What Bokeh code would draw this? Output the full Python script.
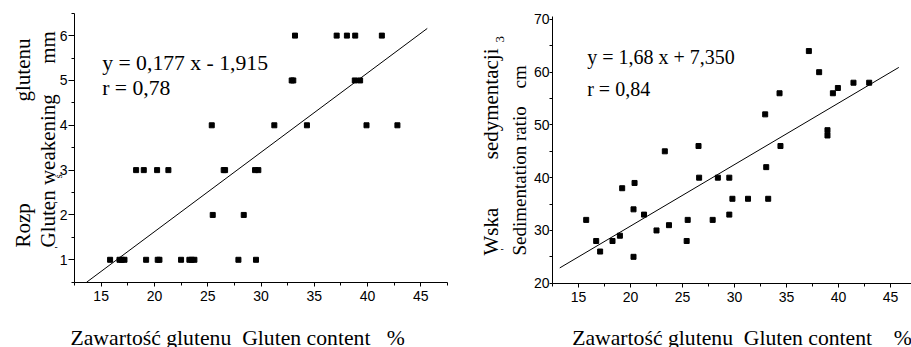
import math
from bokeh.plotting import figure
from bokeh.models import Label, FixedTicker
from bokeh.layouts import row
from bokeh.embed import file_html
from bokeh.resources import INLINE

# ---------------- data: left chart (gluten weakening vs gluten content)
weak_x = [15.84, 16.72, 16.94, 17.19, 19.22, 20.31, 20.47, 22.5, 23.28, 23.5, 23.75, 27.88, 29.53,
          25.47, 28.38,
          18.28, 19.0, 20.25, 21.31, 26.5, 26.63, 29.44, 29.75,
          25.38, 31.25, 34.31, 39.9, 42.8,
          32.88, 33.03, 38.8, 39.3,
          33.19, 37.1, 38.06, 38.84, 41.34]
weak_y = [1, 1, 1, 1, 1, 1, 1, 1, 1, 1, 1, 1, 1,
          2, 2,
          3, 3, 3, 3, 3, 3, 3, 3,
          4, 4, 4, 4, 4,
          5, 5, 5, 5,
          6, 6, 6, 6, 6]
weak_line_x = [13.64, 45.6]
weak_line_y = [0.5, 6.16]
weak_eq = "y = 0,177 x - 1,915"
weak_r = "r = 0,78"

# ---------------- data: right chart (sedimentation ratio vs gluten content)
sed_x = [15.74, 16.7, 17.08, 18.27, 18.98, 19.2, 20.29, 20.39, 20.29, 21.3, 22.5, 23.3, 23.7,
         25.4, 25.5, 26.54, 26.6, 27.9, 28.4, 29.5, 29.5, 29.8, 31.3, 32.95, 33.05, 33.24,
         34.33, 34.42, 37.15, 38.14, 38.94, 38.94, 39.46, 39.94, 41.44, 42.95]
sed_y = [32, 28, 26, 28, 29, 38, 34, 39, 25, 33, 30, 45, 31,
         28, 32, 46, 40, 32, 40, 40, 33, 36, 36, 52, 42, 36,
         56, 46, 64, 60, 49, 48, 56, 57, 58, 58]
sed_line_x = [13.2, 45.8]
sed_line_y = [22.9, 60.9]
sed_eq = "y = 1,68 x + 7,350"
sed_r = "r = 0,84"

# ---------------- axes extents and ticks
x_bounds = (12.5, 47.5)
weak_bounds = (0.5, 6.5)
sed_bounds = (20, 70.5)
x_major = [15, 20, 25, 30, 35, 40, 45]
x_minor = [12.5, 17.5, 22.5, 27.5, 32.5, 37.5, 42.5, 47.5]
weak_major = [1, 2, 3, 4, 5, 6]
weak_minor = [0.5, 1.5, 2.5, 3.5, 4.5, 5.5, 6.5]
sed_major = [20, 30, 40, 50, 60, 70]
sed_minor = [25, 35, 45, 55, 65]

NB = "\u00a0"
x_label_left = "Zawartość glutenu" + NB * 2 + "Gluten content" + NB * 3 + "%"
x_label_right = "Zawartość glutenu" + NB * 2 + "Gluten content" + NB * 4 + "%"

SERIF = "Liberation Serif"
SANS = "Liberation Sans"
H = 347
UP = math.pi / 2
BASE_FIX = 0.25   # em: renderer places the alphabetic baseline this much lower


def make_fig(width, x0_px, x1_px, xv0, xv1, y0_px, y1_px, yv0, yv1):
    """Frame fills the whole canvas; ranges chosen so that data value xv0 sits at
    pixel x0_px etc. (pixels from top-left of this canvas)."""
    kx = (x1_px - x0_px) / (xv1 - xv0)
    ky = (y0_px - y1_px) / (yv1 - yv0)
    xr = (xv0 - x0_px / kx, xv0 + (width - x0_px) / kx)
    yr = (yv0 - (H - y0_px) / ky, yv1 + y1_px / ky)
    p = figure(width=width, height=H, x_range=xr, y_range=yr,
               output_backend="svg", toolbar_location=None,
               min_border=0, min_border_left=0, min_border_right=0,
               min_border_top=0, min_border_bottom=0)
    p.outline_line_color = None
    p.xgrid.visible = False
    p.ygrid.visible = False
    p.background_fill_color = "white"
    p.border_fill_color = "white"
    return p


def style_axes(p, ymaj, ymin, ybounds, ytick_out, ystand):
    p.xaxis.fixed_location = ybounds[0]
    p.yaxis.fixed_location = x_bounds[0]
    p.xaxis.bounds = x_bounds
    p.yaxis.bounds = ybounds
    p.xaxis.ticker = FixedTicker(ticks=x_major, minor_ticks=x_minor)
    p.yaxis.ticker = FixedTicker(ticks=ymaj, minor_ticks=ymin)
    for ax in (p.xaxis, p.yaxis):
        ax.axis_line_color = "black"
        ax.axis_line_width = 1
        ax.major_tick_line_color = "black"
        ax.minor_tick_line_color = "black"
        ax.major_tick_in = 0
        ax.minor_tick_in = 0
        ax.major_label_text_font = SANS
        ax.major_label_text_font_size = "14px"
        ax.major_label_text_color = "black"
    p.xaxis.major_tick_out = 4
    p.xaxis.minor_tick_out = 3
    p.xaxis.major_label_standoff = 5
    p.yaxis.major_tick_out = ytick_out
    p.yaxis.minor_tick_out = 3
    p.yaxis.major_label_standoff = ystand


def lab(p, text, x, y_page, size=21, align="left", angle=0.0):
    # x, y_page: wanted baseline anchor in pixels from the canvas' top-left corner
    fix = BASE_FIX * size
    if angle:
        x -= fix
    else:
        y_page -= fix
    p.add_layout(Label(x=x, y=H - y_page, x_units="screen", y_units="screen", text=text,
                       text_font=SERIF, text_font_size=f"{size}px", text_color="black",
                       text_align=align, text_baseline="alphabetic", angle=angle))


# ---------------- left figure (canvas x 0..470)
p1 = make_fig(470, 74, 447, 12.5, 47.5, 281.7, 12.7, 0.5, 6.5)
style_axes(p1, weak_major, weak_minor, weak_bounds, 6, 1)
p1.line(weak_line_x, weak_line_y, line_color="black", line_width=1)
p1.scatter(weak_x, weak_y, marker="square", size=5, fill_color="black", line_color="black")
lab(p1, weak_eq, 101.7, 68.3, size=21.7)
lab(p1, weak_r, 101.7, 92.7, size=21.7)
lab(p1, "Rozp", 28, 247, angle=UP)
lab(p1, "glutenu", 28, 38, angle=UP, align="right")
lab(p1, "Gluten weakening", 53, 247, angle=UP)
lab(p1, "mm", 53, 63.3, angle=UP)
lab(p1, "ś", 60, 178, size=11, angle=UP)
lab(p1, "'", 60, 203, size=11, angle=UP)
lab(p1, "'", 60, 248, size=11, angle=UP)
lab(p1, x_label_left, 70, 343.3, size=21.7)

# ---------------- right figure (canvas x 470..911 on the page)
OX = 470
p2 = make_fig(441, 552 - OX, 890 - OX, 12.5, 45, 282.7, 18.9, 20, 70)
style_axes(p2, sed_major, sed_minor, sed_bounds, 3, 0)
p2.line(sed_line_x, sed_line_y, line_color="black", line_width=1)
p2.scatter(sed_x, sed_y, marker="square", size=5, fill_color="black", line_color="black")
lab(p2, sed_eq, 586.7 - OX, 61.7, size=20)
lab(p2, sed_r, 586.7 - OX, 93.3, size=20)
lab(p2, "Wska", 496 - OX, 255, angle=UP)
lab(p2, "sedymentacji", 496 - OX, 48, angle=UP, align="right")
lab(p2, "Sedimentation ratio", 524 - OX, 255, size=19, angle=UP)
lab(p2, "cm", 524 - OX, 88, size=19, angle=UP)
lab(p2, "3", 503 - OX, 42, size=13, angle=UP)
lab(p2, "'", 506 - OX, 250, size=11, angle=UP)
lab(p2, x_label_right, 571.7 - OX, 343.3, size=21.7)

layout = row(p1, p2)
open("out.html", "w").write(file_html(layout, INLINE))
